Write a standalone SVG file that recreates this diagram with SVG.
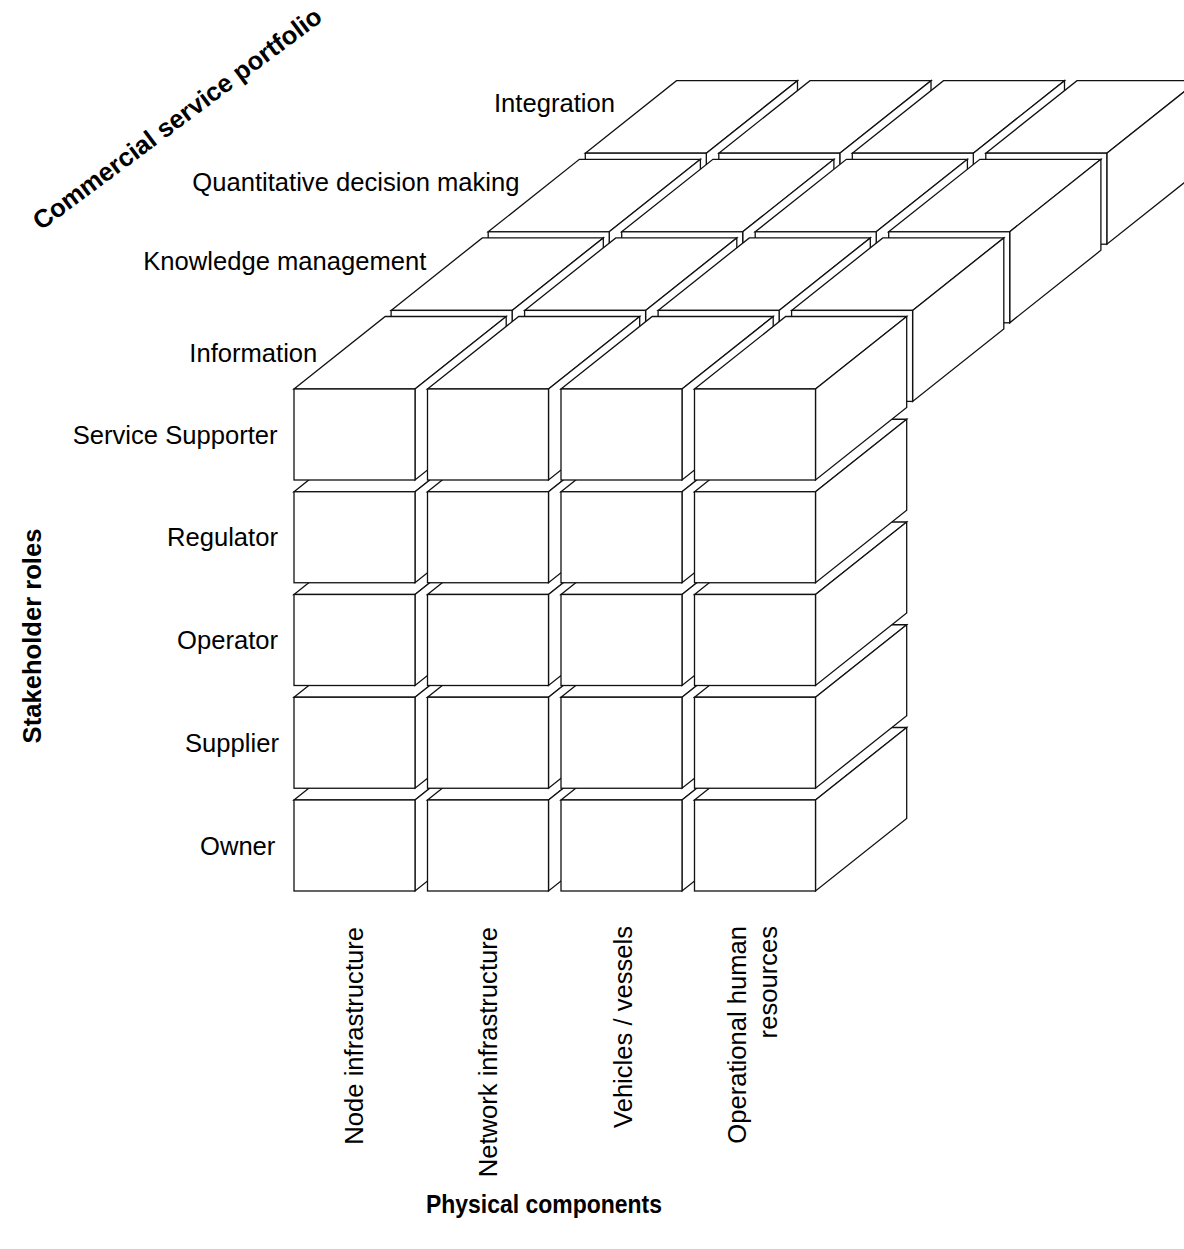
<svg xmlns="http://www.w3.org/2000/svg" xmlns:xlink="http://www.w3.org/1999/xlink" width="1184" height="1249" viewBox="0 0 1184 1249">
  <style>
    .face { fill: #fff; stroke: #111; stroke-width: 1.3; stroke-linejoin: miter; }
    .lbl { font-family: "Liberation Sans", Arial, sans-serif; font-size: 25.6px; fill: #000; }
    .axis { font-family: "Liberation Sans", Arial, sans-serif; font-size: 25.6px; font-weight: bold; fill: #000; }
  </style>
  <defs>
    <!-- one box: front face at (0,0), top and right faces receding up-right -->
    <g id="cube">
      <polygon class="face" points="0,0 91.2,-72.5 212.2,-72.5 121,0"/>
      <polygon class="face" points="121,0 212.2,-72.5 212.2,18.5 121,91"/>
      <rect class="face" x="0" y="0" width="121" height="91"/>
    </g>
  </defs>

  <rect x="0" y="0" width="1184" height="1249" fill="#fff"/>

  <!-- back layers: single top row each (Integration, Quantitative decision making, Knowledge management) -->
  <g id="layer-integration">
    <g id="cell-integration-node" transform="translate(585.3,153.2)"><use href="#cube"/></g>
    <g id="cell-integration-network" transform="translate(718.8,153.2)"><use href="#cube"/></g>
    <g id="cell-integration-vehicles" transform="translate(852.3,153.2)"><use href="#cube"/></g>
    <g id="cell-integration-human" transform="translate(985.8,153.2)"><use href="#cube"/></g>
  </g>
  <g id="layer-quantitative">
    <g id="cell-quantitative-node" transform="translate(488.2,231.8)"><use href="#cube"/></g>
    <g id="cell-quantitative-network" transform="translate(621.7,231.8)"><use href="#cube"/></g>
    <g id="cell-quantitative-vehicles" transform="translate(755.2,231.8)"><use href="#cube"/></g>
    <g id="cell-quantitative-human" transform="translate(888.7,231.8)"><use href="#cube"/></g>
  </g>
  <g id="layer-knowledge">
    <g id="cell-knowledge-node" transform="translate(391.1,310.4)"><use href="#cube"/></g>
    <g id="cell-knowledge-network" transform="translate(524.6,310.4)"><use href="#cube"/></g>
    <g id="cell-knowledge-vehicles" transform="translate(658.1,310.4)"><use href="#cube"/></g>
    <g id="cell-knowledge-human" transform="translate(791.6,310.4)"><use href="#cube"/></g>
  </g>

  <!-- front layer (Information): five stakeholder rows, painted bottom row first -->
  <g id="layer-information">
    <g id="cell-owner-node" transform="translate(294,800)"><use href="#cube"/></g>
    <g id="cell-owner-network" transform="translate(427.5,800)"><use href="#cube"/></g>
    <g id="cell-owner-vehicles" transform="translate(561,800)"><use href="#cube"/></g>
    <g id="cell-owner-human" transform="translate(694.5,800)"><use href="#cube"/></g>

    <g id="cell-supplier-node" transform="translate(294,697.25)"><use href="#cube"/></g>
    <g id="cell-supplier-network" transform="translate(427.5,697.25)"><use href="#cube"/></g>
    <g id="cell-supplier-vehicles" transform="translate(561,697.25)"><use href="#cube"/></g>
    <g id="cell-supplier-human" transform="translate(694.5,697.25)"><use href="#cube"/></g>

    <g id="cell-operator-node" transform="translate(294,594.5)"><use href="#cube"/></g>
    <g id="cell-operator-network" transform="translate(427.5,594.5)"><use href="#cube"/></g>
    <g id="cell-operator-vehicles" transform="translate(561,594.5)"><use href="#cube"/></g>
    <g id="cell-operator-human" transform="translate(694.5,594.5)"><use href="#cube"/></g>

    <g id="cell-regulator-node" transform="translate(294,491.75)"><use href="#cube"/></g>
    <g id="cell-regulator-network" transform="translate(427.5,491.75)"><use href="#cube"/></g>
    <g id="cell-regulator-vehicles" transform="translate(561,491.75)"><use href="#cube"/></g>
    <g id="cell-regulator-human" transform="translate(694.5,491.75)"><use href="#cube"/></g>

    <g id="cell-supporter-node" transform="translate(294,389)"><use href="#cube"/></g>
    <g id="cell-supporter-network" transform="translate(427.5,389)"><use href="#cube"/></g>
    <g id="cell-supporter-vehicles" transform="translate(561,389)"><use href="#cube"/></g>
    <g id="cell-supporter-human" transform="translate(694.5,389)"><use href="#cube"/></g>
  </g>

  <!-- no connectors in this figure -->
  <g id="connectors"/>

  <!-- service portfolio labels -->
  <g id="portfolio-labels">
    <text class="lbl" x="494" y="112">Integration</text>
    <text class="lbl" x="192.3" y="190.5">Quantitative decision making</text>
    <text class="lbl" x="143.3" y="269.5">Knowledge management</text>
    <text class="lbl" x="189.3" y="362.3">Information</text>
  </g>

  <!-- stakeholder role labels -->
  <g id="role-labels">
    <text class="lbl" x="72.7" y="443.5">Service Supporter</text>
    <text class="lbl" x="167" y="546.25">Regulator</text>
    <text class="lbl" x="177" y="649">Operator</text>
    <text class="lbl" x="185" y="751.75">Supplier</text>
    <text class="lbl" x="200" y="854.5">Owner</text>
  </g>

  <!-- physical component labels, reading upwards -->
  <g id="component-labels">
    <text class="lbl" text-anchor="end" transform="translate(362.5,927) rotate(-90)">Node infrastructure</text>
    <text class="lbl" text-anchor="end" transform="translate(496.5,927) rotate(-90)">Network infrastructure</text>
    <text class="lbl" text-anchor="end" transform="translate(631.5,926) rotate(-90)">Vehicles / vessels</text>
    <text class="lbl" text-anchor="end" transform="translate(745.8,926) rotate(-90)">Operational human</text>
    <text class="lbl" text-anchor="end" transform="translate(776.5,926) rotate(-90)">resources</text>
  </g>

  <!-- axis titles -->
  <g id="axis-titles">
    <text class="axis" transform="translate(41,231) rotate(-36.7)">Commercial service portfolio</text>
    <text class="axis" text-anchor="middle" transform="translate(41.3,636) rotate(-90)">Stakeholder roles</text>
    <text class="axis" text-anchor="middle" x="544" y="1213" textLength="236" lengthAdjust="spacingAndGlyphs">Physical components</text>
  </g>
</svg>
